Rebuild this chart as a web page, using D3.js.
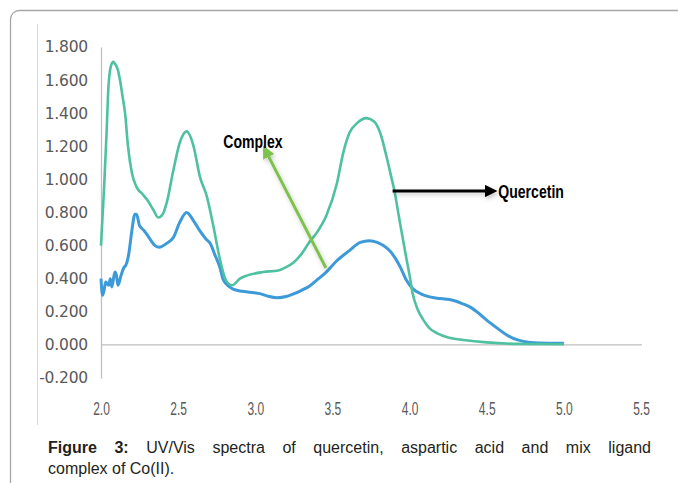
<!DOCTYPE html>
<html>
<head>
<meta charset="utf-8">
<script src="https://cdnjs.cloudflare.com/ajax/libs/d3/7.8.5/d3.min.js"></script>
<style>
  body { margin: 0; background: #fff; }
  svg { display: block; }
</style>
</head>
<body>
<svg id="chart" width="678" height="483"></svg>
<script>
// x values and absorbance values
const quercetinX = [2.00, 2.02, 2.037, 2.045, 2.063, 2.08, 2.09, 2.11, 2.123, 2.14, 2.156, 2.175, 2.20, 2.23, 2.27, 2.30, 2.34, 2.37, 2.40, 2.426, 2.47, 2.51, 2.555, 2.60, 2.64, 2.685, 2.73, 2.77, 2.81, 2.85, 2.90, 2.95, 3.05, 3.15, 3.20, 3.25, 3.30, 3.35, 3.40, 3.46, 3.53, 3.57, 3.61, 3.66, 3.72, 3.77, 3.81, 3.85, 3.88, 3.90, 3.93, 3.97, 4.00, 4.02, 4.05, 4.09, 4.13, 4.18, 4.25, 4.35, 4.50, 4.70, 5.00];
const quercetinY = [0.60, 0.95, 1.30, 1.50, 1.68, 1.71, 1.70, 1.66, 1.60, 1.50, 1.40, 1.20, 1.04, 0.955, 0.91, 0.875, 0.815, 0.77, 0.79, 0.86, 1.06, 1.22, 1.29, 1.20, 1.02, 0.90, 0.71, 0.52, 0.39, 0.36, 0.40, 0.42, 0.44, 0.45, 0.47, 0.50, 0.55, 0.62, 0.68, 0.78, 0.98, 1.16, 1.28, 1.34, 1.37, 1.35, 1.28, 1.14, 1.02, 0.94, 0.78, 0.57, 0.42, 0.31, 0.22, 0.15, 0.10, 0.07, 0.045, 0.03, 0.015, 0.006, 0.004];

const complexX = [2.00, 2.01, 2.02, 2.03, 2.05, 2.06, 2.07, 2.09, 2.10, 2.11, 2.13, 2.15, 2.16, 2.18, 2.20, 2.22, 2.23, 2.25, 2.28, 2.31, 2.35, 2.38, 2.42, 2.47, 2.51, 2.555, 2.60, 2.64, 2.68, 2.71, 2.74, 2.77, 2.79, 2.81, 2.85, 2.88, 2.95, 3.03, 3.08, 3.14, 3.20, 3.24, 3.30, 3.35, 3.41, 3.46, 3.53, 3.61, 3.68, 3.74, 3.79, 3.83, 3.87, 3.91, 3.94, 3.98, 4.02, 4.07, 4.13, 4.20, 4.28, 4.34, 4.39, 4.45, 4.50, 4.57, 4.63, 4.70, 4.78, 4.90, 5.00];
const complexY = [0.40, 0.30, 0.33, 0.38, 0.36, 0.40, 0.35, 0.44, 0.42, 0.36, 0.42, 0.47, 0.48, 0.55, 0.69, 0.79, 0.79, 0.72, 0.69, 0.65, 0.60, 0.59, 0.61, 0.65, 0.74, 0.80, 0.75, 0.69, 0.64, 0.61, 0.54, 0.47, 0.40, 0.37, 0.34, 0.33, 0.32, 0.31, 0.295, 0.285, 0.292, 0.305, 0.33, 0.355, 0.40, 0.44, 0.51, 0.57, 0.62, 0.63, 0.62, 0.60, 0.57, 0.52, 0.47, 0.39, 0.34, 0.31, 0.29, 0.28, 0.27, 0.25, 0.23, 0.19, 0.15, 0.10, 0.06, 0.03, 0.015, 0.01, 0.01];

const xTicks = [2.0, 2.5, 3.0, 3.5, 4.0, 4.5, 5.0, 5.5];
const yTicks = [-0.2, 0, 0.2, 0.4, 0.6, 0.8, 1.0, 1.2, 1.4, 1.6, 1.8];

// annotation arrows, in data units: [x1, y1, x2, y2]
const complexArrow = [3.458, 0.465, 3.08, 1.15];
const quercetinArrow = [3.89, 0.93, 4.555, 0.93];

const captionBold = "Figure 3:";
const captionLine1 = "UV/Vis spectra of quercetin, aspartic acid and mix ligand";
const captionLine2 = "complex of Co(II).";

const svg = d3.select("#chart");

// outer frame of the figure
svg.append("rect")
    .attr("x", 10.5).attr("y", 10.5)
    .attr("width", 720).attr("height", 520)
    .attr("rx", 9)
    .attr("fill", "none")
    .attr("stroke", "#a6a6a6")
    .attr("stroke-width", 1.3);

// chart area edge
svg.append("line")
    .attr("x1", 37.5).attr("x2", 37.5)
    .attr("y1", 24).attr("y2", 425)
    .attr("stroke", "#d9d9d9");

const x = d3.scaleLinear().domain([2.0, 5.5]).range([101, 641]);
const y = d3.scaleLinear().domain([-0.2, 1.8]).range([378, 47]);

// y axis
const yFormat = d => d3.format(".3f")(d).replace("\u2212", "-");
const yAxis = svg.append("g")
    .attr("transform", `translate(${x(2.0)},0)`)
    .call(d3.axisLeft(y).tickValues(yTicks).tickSize(0).tickPadding(13).tickFormat(yFormat));
yAxis.select(".domain").attr("stroke", "#bfbfbf").attr("stroke-width", 1.3);
yAxis.selectAll("text")
    .attr("fill", "#595959")
    .style("font-family", "'DejaVu Sans', sans-serif")
    .style("font-size", "15.5px")
    .style("letter-spacing", "-0.2px");

// zero line
svg.append("line")
    .attr("x1", x(2.0)).attr("x2", x(5.5) + 1)
    .attr("y1", y(0)).attr("y2", y(0))
    .attr("stroke", "#bfbfbf")
    .attr("stroke-width", 1.3);

// x axis labels (narrow font, squeezed)
const xAxis = svg.append("g")
    .attr("transform", `translate(0,${y(-0.2)})`)
    .call(d3.axisBottom(x).tickValues(xTicks).tickSize(0).tickPadding(24).tickFormat(d3.format(".1f")));
xAxis.select(".domain").remove();
xAxis.selectAll("text")
    .attr("fill", "#595959")
    .attr("transform", "scale(0.65,1)")
    .style("font-family", "'Liberation Sans', sans-serif")
    .style("font-size", "18.5px");

const line = d3.line()
    .x(d => x(d[0]))
    .y(d => y(d[1]))
    .curve(d3.curveMonotoneX);

svg.append("path")
    .datum(d3.zip(complexX, complexY))
    .attr("d", line)
    .attr("fill", "none")
    .attr("stroke", "#3d9ad9")
    .attr("stroke-width", 3)
    .attr("stroke-linejoin", "round");

svg.append("path")
    .datum(d3.zip(quercetinX, quercetinY))
    .attr("d", line)
    .attr("fill", "none")
    .attr("stroke", "#4fc1a0")
    .attr("stroke-width", 2.6)
    .attr("stroke-linejoin", "round");

// arrow heads
const defs = svg.append("defs");
function marker(id, color) {
    defs.append("marker")
        .attr("id", id)
        .attr("viewBox", "0 0 10 10")
        .attr("refX", 2).attr("refY", 5)
        .attr("markerWidth", 4.2).attr("markerHeight", 4.2)
        .attr("orient", "auto")
        .append("path")
        .attr("d", "M0,0 L10,5 L0,10 z")
        .attr("fill", color);
}
marker("headGreen", "#7dc24b");
marker("headBlack", "#000");

const shadow = defs.append("filter").attr("id", "shadow")
    .attr("filterUnits", "userSpaceOnUse")
    .attr("x", 0).attr("y", 0).attr("width", 678).attr("height", 483);
shadow.append("feDropShadow")
    .attr("dx", 1.5).attr("dy", 2.5).attr("stdDeviation", 2)
    .attr("flood-color", "#000").attr("flood-opacity", 0.22);

svg.append("line")
    .attr("x1", x(complexArrow[0])).attr("y1", y(complexArrow[1]))
    .attr("x2", x(complexArrow[2])).attr("y2", y(complexArrow[3]))
    .attr("stroke", "#7dc24b")
    .attr("stroke-width", 3)
    .attr("marker-end", "url(#headGreen)")
    .attr("filter", "url(#shadow)");

svg.append("line")
    .attr("x1", x(quercetinArrow[0])).attr("y1", y(quercetinArrow[1]))
    .attr("x2", x(quercetinArrow[2]) - 8).attr("y2", y(quercetinArrow[3]))
    .attr("stroke", "#000")
    .attr("stroke-width", 3)
    .attr("marker-end", "url(#headBlack)")
    .attr("filter", "url(#shadow)");

// bold condensed labels
function label(text, px, py, anchor) {
    svg.append("text")
        .attr("transform", `translate(${px},${py}) scale(0.76,1)`)
        .attr("text-anchor", anchor)
        .style("font-family", "'Liberation Sans', sans-serif")
        .style("font-weight", "bold")
        .style("font-size", "18.5px")
        .text(text);
}
label("Complex", x(2.985), y(1.19), "middle");
label("Quercetin", x(4.575), y(0.89), "start");

// caption, first line justified
const capLeft = 48, capRight = 651;
const cap1 = svg.append("text")
    .attr("x", capLeft).attr("y", 453)
    .attr("fill", "#231f20")
    .style("font-family", "'Liberation Sans', Arial, sans-serif")
    .style("font-size", "16px");
cap1.append("tspan").style("font-weight", "bold").text(captionBold + " ");
cap1.append("tspan").text(captionLine1);
const words = (captionBold + " " + captionLine1).split(" ").length;
const natural = cap1.node().getComputedTextLength();
cap1.style("word-spacing", ((capRight - capLeft - natural) / (words - 1)) + "px");

svg.append("text")
    .attr("x", capLeft).attr("y", 474)
    .attr("fill", "#231f20")
    .style("font-family", "'Liberation Sans', Arial, sans-serif")
    .style("font-size", "16px")
    .text(captionLine2);
</script>
</body>
</html>
